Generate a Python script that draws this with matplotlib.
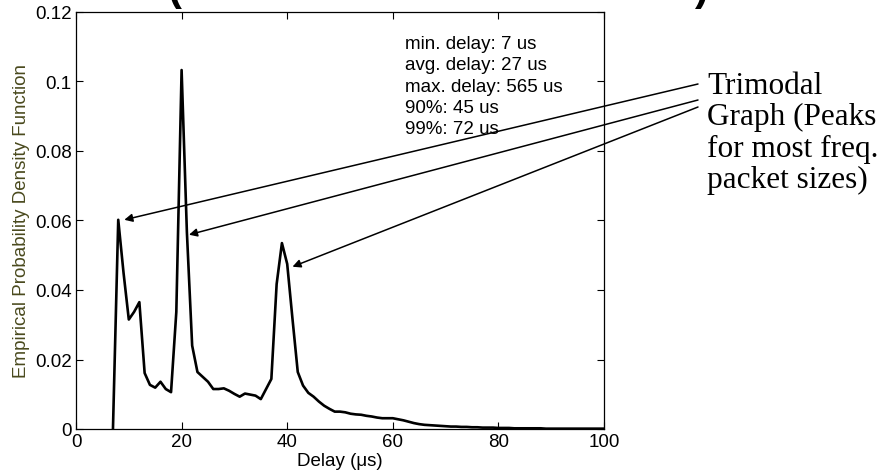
import matplotlib.pyplot as plt
import numpy as np

# delay bins in microseconds and the empirical pdf for each bin
delay_us = list(range(7, 101))
pdf = [
    0.0, 0.0602, 0.045, 0.0315, 0.0337, 0.0365, 0.0161, 0.0127, 0.0119, 0.0136,
    0.0115, 0.0106, 0.0337, 0.1033, 0.0567, 0.024, 0.0164, 0.015, 0.0136, 0.0115,
    0.0115, 0.0117, 0.011, 0.0101, 0.0093, 0.0102, 0.0099, 0.0096, 0.0086, 0.0115,
    0.0144, 0.0417, 0.0535, 0.0475, 0.0317, 0.0164, 0.0125, 0.0104, 0.0093, 0.0079,
    0.0067, 0.0058, 0.005, 0.005, 0.0048, 0.0044, 0.0042, 0.0041, 0.0038, 0.0036,
    0.0033, 0.0031, 0.0031, 0.0031, 0.0028, 0.0025, 0.0021, 0.0017, 0.0014, 0.0012,
    0.0011, 0.0010, 0.0009, 0.0008, 0.0007, 0.0007, 0.0006, 0.0006, 0.0005, 0.0005,
    0.0004, 0.0004, 0.0004, 0.0003, 0.0003, 0.0003, 0.0002, 0.0002, 0.0002, 0.0002,
    0.0002, 0.0002, 0.0001, 0.0001, 0.0001, 0.0001, 0.0001, 0.0001, 0.0001, 0.0001,
    0.0001, 0.0001, 0.0001, 0.0001,
]

stats_lines = ["min. delay: 7 us", "avg. delay: 27 us", "max. delay: 565 us",
               "90%: 45 us", "99%: 72 us"]
xticks = [0, 20, 40, 60, 80, 100]
yticks = [0, 0.02, 0.04, 0.06, 0.08, 0.1, 0.12]
ytick_labels = ["0", "0.02", "0.04", "0.06", "0.08", "0.1", "0.12"]

# the three modes the callout points at
peaks = [(9.15, 0.0602), (21.4, 0.0559), (41.0, 0.0467)]
callout_tails = [(698, 85), (698, 101), (698, 108)]

plt.rcParams['font.family'] = ['Liberation Sans', 'DejaVu Sans']

W, H = 885, 477
fig = plt.figure(figsize=(W / 100, H / 100), dpi=100)
ax = fig.add_axes([76 / W, 1 - 430 / H, 528 / W, 417 / H])

ax.plot(delay_us, pdf, color='black', linewidth=1.9)

ax.set_xlim(0, 100)
ax.set_ylim(0, 0.12)
ax.set_xticks(xticks)
ax.set_xticklabels([str(t) for t in xticks])
ax.set_yticks(yticks)
ax.set_yticklabels(ytick_labels)
ax.tick_params(direction='in', length=5, width=0.8, labelsize=13.5,
               top=True, right=True, pad=3)
for s in ax.spines.values():
    s.set_linewidth(0.9)

ax.set_xlabel("Delay (\u03bcs)", fontsize=13.5, labelpad=1)
ax.set_ylabel("Empirical Probability Density Function", fontsize=13.5,
              color='#4a4a1e', labelpad=4)

fig.text(405 / W, 1 - 36 / H, "\n".join(stats_lines),
         fontsize=13.5, va='top', ha='left', linespacing=1.33)

for (px, py), (tx, ty) in zip(peaks, callout_tails):
    ax.annotate('', xy=(px, py), xycoords='data',
                xytext=(tx / W, 1 - ty / H), textcoords='figure fraction',
                arrowprops=dict(arrowstyle='-|>', color='black', lw=1.1,
                                mutation_scale=12, shrinkA=0, shrinkB=0),
                annotation_clip=False)

fig.text(707 / W, 1 - 72 / H, "Trimodal\nGraph (Peaks\nfor most freq.\npacket sizes)",
         family='Liberation Serif', fontsize=22.5, va='top', ha='left',
         linespacing=1.1)

# slide heading sits just above the canvas; only its brackets dip into view
fig.text(168 / W, 1.0, "(", fontsize=30, fontweight='bold', va='baseline')
fig.text(695 / W, 1.0, ")", fontsize=30, fontweight='bold', va='baseline')

fig.savefig('out.png', dpi=100)
